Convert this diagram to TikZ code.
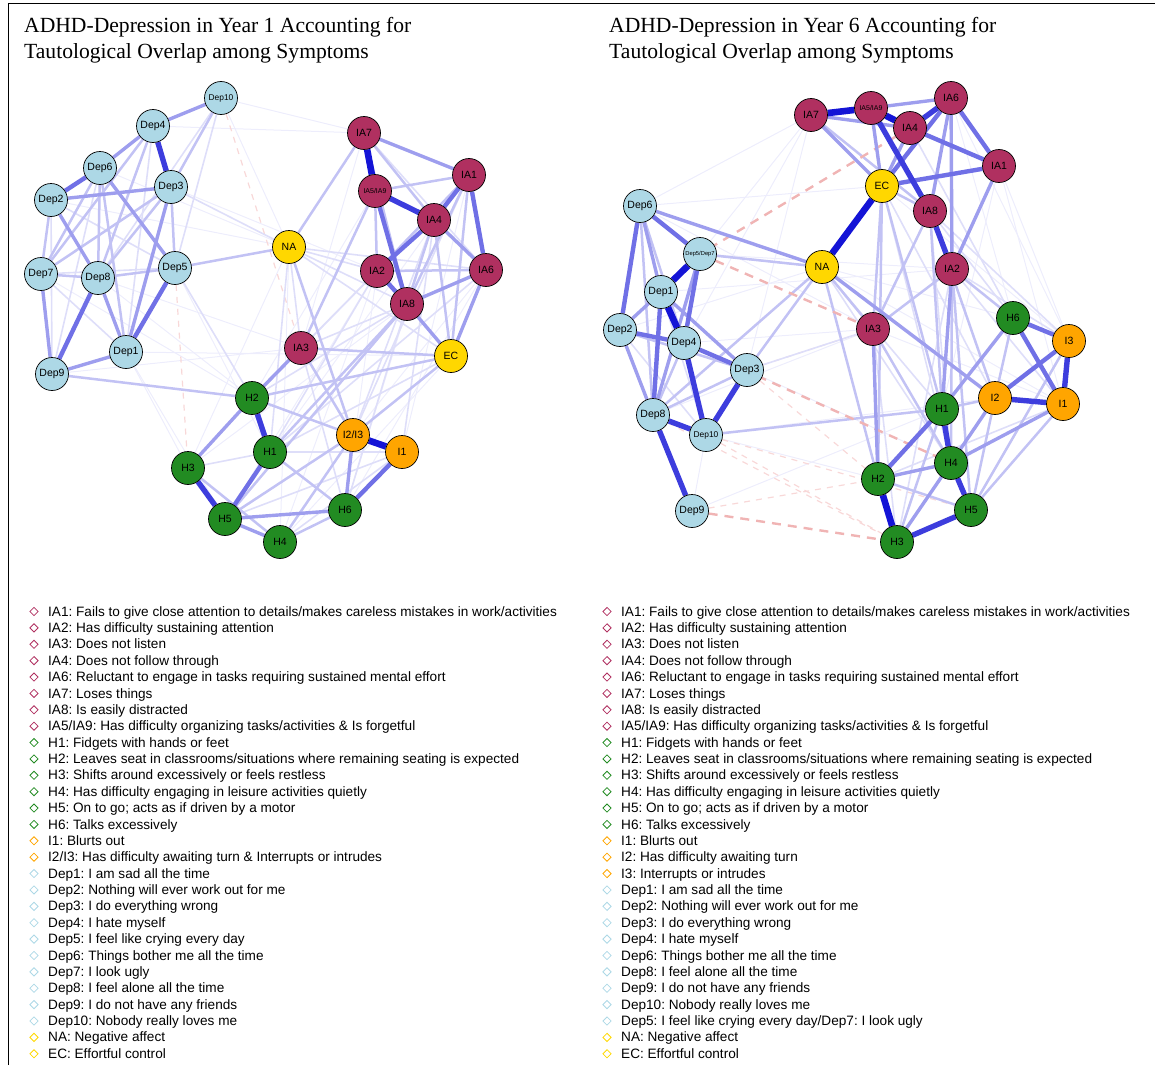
\documentclass[tikz,border=0pt]{standalone}
\usepackage{fontspec}
\setmainfont{Liberation Serif}
\newfontfamily\sansf{Liberation Sans}
\usetikzlibrary{shapes.geometric,backgrounds}
\frenchspacing
\definecolor{maroonc}{RGB}{176,48,96}
\definecolor{greenc}{RGB}{34,139,34}
\definecolor{orangec}{RGB}{255,165,0}
\definecolor{lbluec}{RGB}{173,216,230}
\definecolor{goldc}{RGB}{255,215,0}
\definecolor{qblue}{RGB}{0,0,210}
\definecolor{negc}{RGB}{240,180,180}
\definecolor{negfc}{RGB}{248,216,216}
\newcommand{\legrow}[5]{\node[legdia,draw=#4] (#1d) at (#2,{611.5+16.38*(#3-1)}) {};
  \node[legtxt] (#1) at (#2+14,{611.5+16.38*(#3-1)}) {#5};}
\tikzset{
  nd/.style={circle,draw=black,line width=0.7pt,minimum size=33pt,inner sep=0pt,font=\sansf\fontsize{10.5}{10.5}\selectfont},
  dep/.style={nd,fill=lbluec},
  ia/.style={nd,fill=maroonc},
  hh/.style={nd,fill=greenc},
  ii/.style={nd,fill=orangec},
  ne/.style={nd,fill=goldc},
  smf/.style={font=\sansf\fontsize{8.4}{8.4}\selectfont},
  xsf/.style={font=\sansf\fontsize{7}{7}\selectfont},
  xxsf/.style={font=\sansf\fontsize{5.8}{5.8}\selectfont},
  e00/.style={draw=qblue!7!white,line width=1pt},
  e0/.style={draw=qblue!13!white,line width=1.6pt},
  e1/.style={draw=qblue!24!white,line width=2.5pt},
  e2/.style={draw=qblue!38!white,line width=3.4pt},
  e3/.style={draw=qblue!56!white,line width=4.4pt},
  e4/.style={draw=qblue!76!white,line width=5.4pt},
  e5/.style={draw=qblue!92!white,line width=6.6pt},
  negl/.style={draw=negc,line width=2.4pt,dash pattern=on 9pt off 7pt},
  negf/.style={draw=negfc,line width=1.2pt,dash pattern=on 6pt off 6pt},
  legdia/.style={diamond,line width=0.8pt,minimum width=8.5pt,minimum height=8.5pt,inner sep=0pt},
  legtxt/.style={anchor=west,inner sep=0pt,text height=9.2pt,text depth=0pt,font=\sansf\fontsize{13.6}{13.6}\selectfont},
  ttl/.style={anchor=north west,inner sep=0pt,align=left,font=\fontsize{21.6}{26}\selectfont}
}
\begin{document}
\begin{tikzpicture}[x=1pt,y=-1pt]
\useasboundingbox (0,0) rectangle (1155,1065);
\draw[line width=1.4pt] (8.5,1065) -- (8.5,3.5) -- (1155,3.5);
\node[ttl] (T1) at (24,17) {ADHD-Depression in Year 1 Accounting for\\Tautological Overlap among Symptoms};
\node[ttl] (T2) at (609,17) {ADHD-Depression in Year 6 Accounting for\\Tautological Overlap among Symptoms};
% ---------- left network nodes
\node[dep,smf] (LDep10) at (221,98) {Dep10};
\node[dep] (LDep4) at (153,126) {Dep4};
\node[dep] (LDep6) at (100,168) {Dep6};
\node[dep] (LDep3) at (171,187) {Dep3};
\node[dep] (LDep2) at (51,200) {Dep2};
\node[dep] (LDep7) at (41,274) {Dep7};
\node[dep] (LDep8) at (98,278) {Dep8};
\node[dep] (LDep5) at (175,268) {Dep5};
\node[dep] (LDep1) at (126,352) {Dep1};
\node[dep] (LDep9) at (52,374) {Dep9};
\node[ne] (LNA) at (289,247) {NA};
\node[ia] (LIA7) at (364,133) {IA7};
\node[ia] (LIA1) at (469,175) {IA1};
\node[ia,xsf] (LIA59) at (375,191) {IA5/IA9};
\node[ia] (LIA4) at (434,220) {IA4};
\node[ia] (LIA2) at (377,271) {IA2};
\node[ia] (LIA6) at (486,270) {IA6};
\node[ia] (LIA8) at (407,304) {IA8};
\node[ia] (LIA3) at (301,348) {IA3};
\node[ne] (LEC) at (451,356) {EC};
\node[hh] (LH2) at (252,398) {H2};
\node[ii] (LI23) at (353,435) {I2/I3};
\node[ii] (LI1) at (402,452) {I1};
\node[hh] (LH1) at (270,452) {H1};
\node[hh] (LH3) at (188,468) {H3};
\node[hh] (LH6) at (345,510) {H6};
\node[hh] (LH5) at (225,519) {H5};
\node[hh] (LH4) at (280,542) {H4};
% ---------- right network nodes
\node[ia] (RIA7) at (811,115) {IA7};
\node[ia,xsf] (RIA59) at (871,108) {IA5/IA9};
\node[ia] (RIA6) at (951,98) {IA6};
\node[ia] (RIA4) at (910,128) {IA4};
\node[ia] (RIA1) at (999,166) {IA1};
\node[ne] (REC) at (882,186) {EC};
\node[ia] (RIA8) at (930,211) {IA8};
\node[dep] (RDep6) at (640,206) {Dep6};
\node[dep,xxsf] (RDep57) at (700,254) {Dep5/Dep7};
\node[ne] (RNA) at (822,267) {NA};
\node[ia] (RIA2) at (952,269) {IA2};
\node[dep] (RDep1) at (661,292) {Dep1};
\node[dep] (RDep2) at (620,330) {Dep2};
\node[dep] (RDep4) at (684,343) {Dep4};
\node[dep] (RDep3) at (747,370) {Dep3};
\node[dep] (RDep8) at (653,415) {Dep8};
\node[dep,smf] (RDep10) at (706,435) {Dep10};
\node[dep] (RDep9) at (692,511) {Dep9};
\node[ia] (RIA3) at (873,329) {IA3};
\node[hh] (RH6) at (1013,318) {H6};
\node[ii] (RI3) at (1069,341) {I3};
\node[ii] (RI2) at (995,398) {I2};
\node[ii] (RI1) at (1063,404) {I1};
\node[hh] (RH1) at (942,409) {H1};
\node[hh] (RH4) at (951,463) {H4};
\node[hh] (RH2) at (878,479) {H2};
\node[hh] (RH5) at (971,510) {H5};
\node[hh] (RH3) at (897,542) {H3};
% ---------- edges
\begin{pgfonlayer}{background}
\foreach \a/\b in {LDep10/LIA7,LDep4/LIA7,LDep10/LNA,LDep1/LEC,LDep9/LIA3,LDep2/LNA,LDep7/LH2,LDep8/LIA3,LDep1/LH3,LNA/LH3,LIA7/LIA3,LDep3/LIA2,LDep5/LH1,LIA1/LI1,LIA6/LH6,LIA6/LI23,LIA2/LH4,LIA2/LH5,LIA4/LH6,LIA1/LH1,LDep1/LH5,LDep8/LH2,LNA/LH4,LIA3/LH3,LEC/LH4,LIA8/LH3,LIA2/LH6,LIA59/LH2,LDep6/LNA,
  RIA7/RDep57,RIA7/RDep4,RIA7/RDep6,RIA7/RDep3,RDep6/REC,RDep9/RDep10,RDep9/RH1,RDep10/RH2,RDep3/RH4,RDep8/RIA3,RIA1/RH1,RIA1/RI3,RIA6/RI3,RIA6/RH6,RDep2/RNA,RDep6/RIA3,RDep1/RIA2,RDep57/RIA2,RIA3/RI1,RDep10/RI2,RDep4/RIA3,RIA1/RI1,REC/RI3,RNA/RI1,RNA/RH6}
  {\draw[e00] (\a) -- (\b);}
\foreach \a/\b in {LDep10/LIA3,LDep5/LH3,RDep9/RH2,RDep10/RH3,RDep3/RH2,RDep8/RH3,RDep3/RIA3,RDep10/RH5}
  {\draw[negf] (\a) -- (\b);}
\foreach \a/\b in {LDep10/LDep5,LDep10/LDep8,LDep3/LNA,LDep2/LDep9,LDep2/LDep5,LDep7/LDep5,LDep7/LDep1,LDep6/LDep9,LDep4/LDep1,LDep5/LH2,LNA/LIA3,LNA/LH1,LNA/LIA6,LNA/LEC,LNA/LIA2,LNA/LIA8,LIA7/LIA6,LIA2/LIA3,LIA3/LIA8,LEC/LH1,LI1/LIA4,LH3/LH1,LH5/LI1,LH4/LI1,LH1/LI1,LIA4/LI23,LIA1/LI23,LIA2/LH1,LIA6/LH1,LIA2/LH2,LIA8/LH2,LIA3/LH6,LIA8/LH6,
  RNA/RDep57,RDep2/RDep10,RDep1/RDep10,RDep3/RIA3,RNA/RH1,RNA/RH4,RIA8/RH6,RIA8/RI3,RIA2/RI3,RIA2/RI1,REC/RI2,RIA3/RH3,RH2/RI1,RH5/RI3,RH3/RI2,RIA2/RH3,RIA8/RH4,REC/RH4,RIA4/RH6,RDep57/RDep2}
  {\draw[e0] (\a) -- (\b);}
\foreach \a/\b in {LDep10/LDep3,LDep4/LDep7,LDep4/LDep8,LDep6/LDep8,LDep6/LDep7,LDep6/LDep1,LDep3/LDep5,LDep3/LDep8,LDep3/LDep7,LDep2/LDep7,LDep7/LDep8,LDep8/LDep5,LDep5/LNA,LDep9/LH2,LNA/LIA7,LNA/LI23,LIA7/LIA4,LIA7/LIA8,LIA59/LIA1,LIA59/LIA2,LIA59/LIA3,LIA1/LIA2,LIA1/LIA8,LIA1/LEC,LIA4/LIA8,LIA4/LEC,LIA2/LIA6,LIA3/LEC,LIA3/LI23,LIA8/LH1,LEC/LH2,LEC/LI23,LH2/LI23,LH1/LH6,LH3/LH4,LH5/LI23,LH4/LH6,LH4/LI23,LIA8/LH5,
  RDep6/RDep8,RDep6/RDep4,RDep2/RDep3,RDep4/RDep8,RDep3/RDep8,RDep10/RH1,RDep3/RNA,RDep8/RNA,RDep57/RNA,RNA/RIA3,RNA/RH2,RIA7/RIA8,REC/RIA8,REC/RH1,REC/RH2,REC/RIA3,RIA2/RIA3,RIA2/RH6,RIA2/RH4,RIA3/RH4,RIA3/RIA8,RH6/RI2,RI2/RH1,RI2/RH5,RH1/RH3,RH2/RH5,RH5/RI1,RH5/RI3,RIA2/RH5,RIA8/RH1,RIA8/RI2}
  {\draw[e1] (\a) -- (\b);}
\foreach \a/\b in {RIA4/RDep57,RDep57/RIA3,RDep4/RH4,RDep9/RH3}
  {\draw[negl] (\a) -- (\b);}
\foreach \a/\b in {LDep10/LDep4,LDep4/LDep6,LDep2/LDep3,LDep6/LDep5,LDep3/LDep1,LDep2/LDep8,LDep8/LDep1,LDep1/LDep9,LDep7/LDep9,LIA7/LIA1,LIA4/LIA6,LIA8/LIA6,LIA8/LEC,LIA6/LEC,LIA3/LH2,LH2/LH3,LH5/LH4,LH5/LH6,LH6/LI23,
  RIA59/RIA6,RIA7/RIA4,RIA59/REC,RIA7/REC,RIA6/RIA8,RIA6/RIA2,RIA1/RIA2,RIA4/REC,RNA/RDep6,RNA/RI2,RIA2/RH1,RIA3/RH2,RH6/RH1,RI2/RH4,RH4/RH2,RH4/RH3,RH4/RI1,RDep6/RDep1,RDep57/RDep8,RDep1/RDep2,RDep1/RDep3,RDep2/RDep8}
  {\draw[e2] (\a) -- (\b);}
\foreach \a/\b in {LDep6/LDep2,LDep8/LDep9,LDep5/LDep1,LIA59/LIA8,LIA1/LIA4,LIA1/LIA6,LIA4/LIA2,LIA2/LIA8,LH1/LH5,LH6/LI1,
  RIA6/RIA1,RIA4/RIA1,RIA6/REC,RIA1/REC,RDep6/RDep57,RDep6/RDep2,RDep57/RDep4,RDep1/RDep8,RDep2/RDep4,RDep4/RDep3,RH6/RI3,RH6/RI1,RI3/RI2,RH1/RH2}
  {\draw[e3] (\a) -- (\b);}
\foreach \a/\b in {LDep4/LDep3,LIA59/LIA4,LH2/LH1,LH3/LH5,
  RIA4/RIA6,RIA59/RIA8,RIA8/RIA2,RDep4/RDep10,RDep3/RDep10,RDep8/RDep10,RDep8/RDep9,RI3/RI1,RI2/RI1,RH1/RH4,RH4/RH5,RH3/RH5}
  {\draw[e4] (\a) -- (\b);}
\foreach \a/\b in {LIA7/LIA59,LI23/LI1,RIA7/RIA59,RIA59/RIA4,REC/RNA,RDep57/RDep1,RDep1/RDep4,RH2/RH3}
  {\draw[e5] (\a) -- (\b);}
\end{pgfonlayer}
% ---------- left legend
\legrow{La1}{34}{1}{maroonc}{IA1: Fails to give close attention to details/makes careless mistakes in work/activities}
\legrow{La2}{34}{2}{maroonc}{IA2: Has difficulty sustaining attention}
\legrow{La3}{34}{3}{maroonc}{IA3: Does not listen}
\legrow{La4}{34}{4}{maroonc}{IA4: Does not follow through}
\legrow{La5}{34}{5}{maroonc}{IA6: Reluctant to engage in tasks requiring sustained mental effort}
\legrow{La6}{34}{6}{maroonc}{IA7: Loses things}
\legrow{La7}{34}{7}{maroonc}{IA8: Is easily distracted}
\legrow{La8}{34}{8}{maroonc}{IA5/IA9: Has difficulty organizing tasks/activities \& Is forgetful}
\legrow{La9}{34}{9}{greenc}{H1: Fidgets with hands or feet}
\legrow{La10}{34}{10}{greenc}{H2: Leaves seat in classrooms/situations where remaining seating is expected}
\legrow{La11}{34}{11}{greenc}{H3: Shifts around excessively or feels restless}
\legrow{La12}{34}{12}{greenc}{H4: Has difficulty engaging in leisure activities quietly}
\legrow{La13}{34}{13}{greenc}{H5: On to go; acts as if driven by a motor}
\legrow{La14}{34}{14}{greenc}{H6: Talks excessively}
\legrow{La15}{34}{15}{orangec}{I1: Blurts out}
\legrow{La16}{34}{16}{orangec}{I2/I3: Has difficulty awaiting turn \& Interrupts or intrudes}
\legrow{La17}{34}{17}{lbluec}{Dep1: I am sad all the time}
\legrow{La18}{34}{18}{lbluec}{Dep2: Nothing will ever work out for me}
\legrow{La19}{34}{19}{lbluec}{Dep3: I do everything wrong}
\legrow{La20}{34}{20}{lbluec}{Dep4: I hate myself}
\legrow{La21}{34}{21}{lbluec}{Dep5: I feel like crying every day}
\legrow{La22}{34}{22}{lbluec}{Dep6: Things bother me all the time}
\legrow{La23}{34}{23}{lbluec}{Dep7: I look ugly}
\legrow{La24}{34}{24}{lbluec}{Dep8: I feel alone all the time}
\legrow{La25}{34}{25}{lbluec}{Dep9: I do not have any friends}
\legrow{La26}{34}{26}{lbluec}{Dep10: Nobody really loves me}
\legrow{La27}{34}{27}{goldc}{NA: Negative affect}
\legrow{La28}{34}{28}{goldc}{EC: Effortful control}
% ---------- right legend
\legrow{Ra1}{607}{1}{maroonc}{IA1: Fails to give close attention to details/makes careless mistakes in work/activities}
\legrow{Ra2}{607}{2}{maroonc}{IA2: Has difficulty sustaining attention}
\legrow{Ra3}{607}{3}{maroonc}{IA3: Does not listen}
\legrow{Ra4}{607}{4}{maroonc}{IA4: Does not follow through}
\legrow{Ra5}{607}{5}{maroonc}{IA6: Reluctant to engage in tasks requiring sustained mental effort}
\legrow{Ra6}{607}{6}{maroonc}{IA7: Loses things}
\legrow{Ra7}{607}{7}{maroonc}{IA8: Is easily distracted}
\legrow{Ra8}{607}{8}{maroonc}{IA5/IA9: Has difficulty organizing tasks/activities \& Is forgetful}
\legrow{Ra9}{607}{9}{greenc}{H1: Fidgets with hands or feet}
\legrow{Ra10}{607}{10}{greenc}{H2: Leaves seat in classrooms/situations where remaining seating is expected}
\legrow{Ra11}{607}{11}{greenc}{H3: Shifts around excessively or feels restless}
\legrow{Ra12}{607}{12}{greenc}{H4: Has difficulty engaging in leisure activities quietly}
\legrow{Ra13}{607}{13}{greenc}{H5: On to go; acts as if driven by a motor}
\legrow{Ra14}{607}{14}{greenc}{H6: Talks excessively}
\legrow{Ra15}{607}{15}{orangec}{I1: Blurts out}
\legrow{Ra16}{607}{16}{orangec}{I2: Has difficulty awaiting turn}
\legrow{Ra17}{607}{17}{orangec}{I3: Interrupts or intrudes}
\legrow{Ra18}{607}{18}{lbluec}{Dep1: I am sad all the time}
\legrow{Ra19}{607}{19}{lbluec}{Dep2: Nothing will ever work out for me}
\legrow{Ra20}{607}{20}{lbluec}{Dep3: I do everything wrong}
\legrow{Ra21}{607}{21}{lbluec}{Dep4: I hate myself}
\legrow{Ra22}{607}{22}{lbluec}{Dep6: Things bother me all the time}
\legrow{Ra23}{607}{23}{lbluec}{Dep8: I feel alone all the time}
\legrow{Ra24}{607}{24}{lbluec}{Dep9: I do not have any friends}
\legrow{Ra25}{607}{25}{lbluec}{Dep10: Nobody really loves me}
\legrow{Ra26}{607}{26}{lbluec}{Dep5: I feel like crying every day/Dep7: I look ugly}
\legrow{Ra27}{607}{27}{goldc}{NA: Negative affect}
\legrow{Ra28}{607}{28}{goldc}{EC: Effortful control}
\end{tikzpicture}
\end{document}
